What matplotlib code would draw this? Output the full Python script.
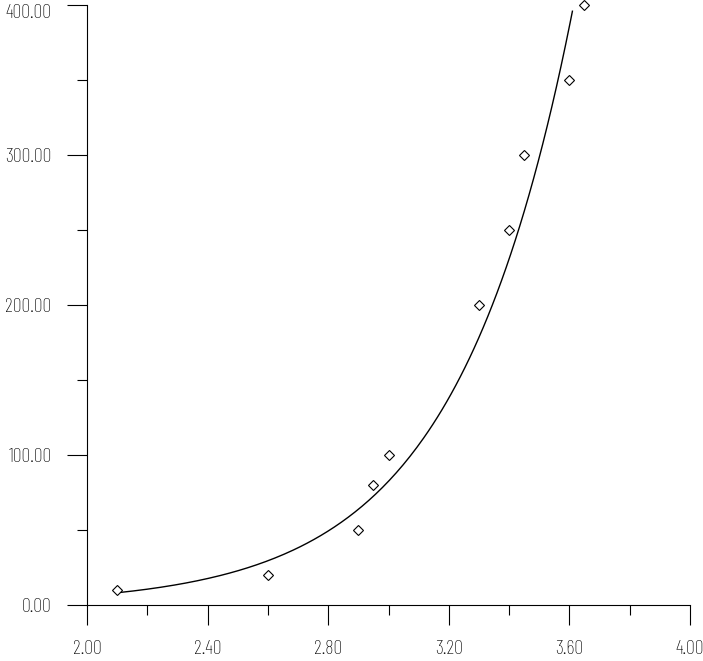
import matplotlib
matplotlib.use("Agg")
import matplotlib.pyplot as plt
import matplotlib.transforms as mtransforms
import numpy as np
from matplotlib.ticker import MultipleLocator, FormatStrFormatter

# measured points
x = np.array([2.10, 2.60, 2.90, 2.95, 3.00, 3.30, 3.40, 3.45, 3.60, 3.65])
y = np.array([10, 20, 50, 80, 100, 200, 250, 300, 350, 400])
y_ticks = [0, 100, 200, 300, 400]
x_ticks = [2.0, 2.4, 2.8, 3.2, 3.6, 4.0]

# exponential fit  y = a * exp(b x), drawn up to the top of the plot
fit_end = 3.61
b, ln_a = np.polyfit(x, np.log(y), 1)
xf = np.linspace(x.min(), fit_end, 200)
yf = np.exp(ln_a + b * xf)

fig = plt.figure(figsize=(7.03, 6.61), dpi=100)
ax = fig.add_axes([87 / 703, 56 / 661, 603 / 703, 600 / 661])

ax.plot(xf, yf, color="black", lw=1.0)
ax.plot(x, y, "D", mfc="white", mec="black", mew=0.8, ms=5.6, ls="none", clip_on=False)

ax.set_xlim(2.0, 4.0)
ax.set_ylim(0, 400)

for s in ["top", "right"]:
    ax.spines[s].set_visible(False)
for s in ["left", "bottom"]:
    ax.spines[s].set_linewidth(0.8)

ax.set_xticks(x_ticks)
ax.set_yticks(y_ticks)
ax.xaxis.set_minor_locator(MultipleLocator(0.2))
ax.yaxis.set_minor_locator(MultipleLocator(50))
ax.xaxis.set_major_formatter(FormatStrFormatter("%.2f"))
ax.yaxis.set_major_formatter(FormatStrFormatter("%.2f"))

ax.tick_params(which="major", direction="out", length=14.4, width=0.8, pad=11)
ax.tick_params(which="minor", direction="out", length=7.2, width=0.8)

for lab in ax.get_xticklabels() + ax.get_yticklabels():
    lab.set_family(["Barlow Condensed", "DejaVu Sans"])
    lab.set_fontweight("light")
    lab.set_fontsize(14.5)

# keep the top label inside the figure
top = ax.get_yticklabels()[-1]
top.set_transform(top.get_transform() + mtransforms.ScaledTranslation(0, -4 / 72, fig.dpi_scale_trans))

fig.savefig("out.png", dpi=100)
